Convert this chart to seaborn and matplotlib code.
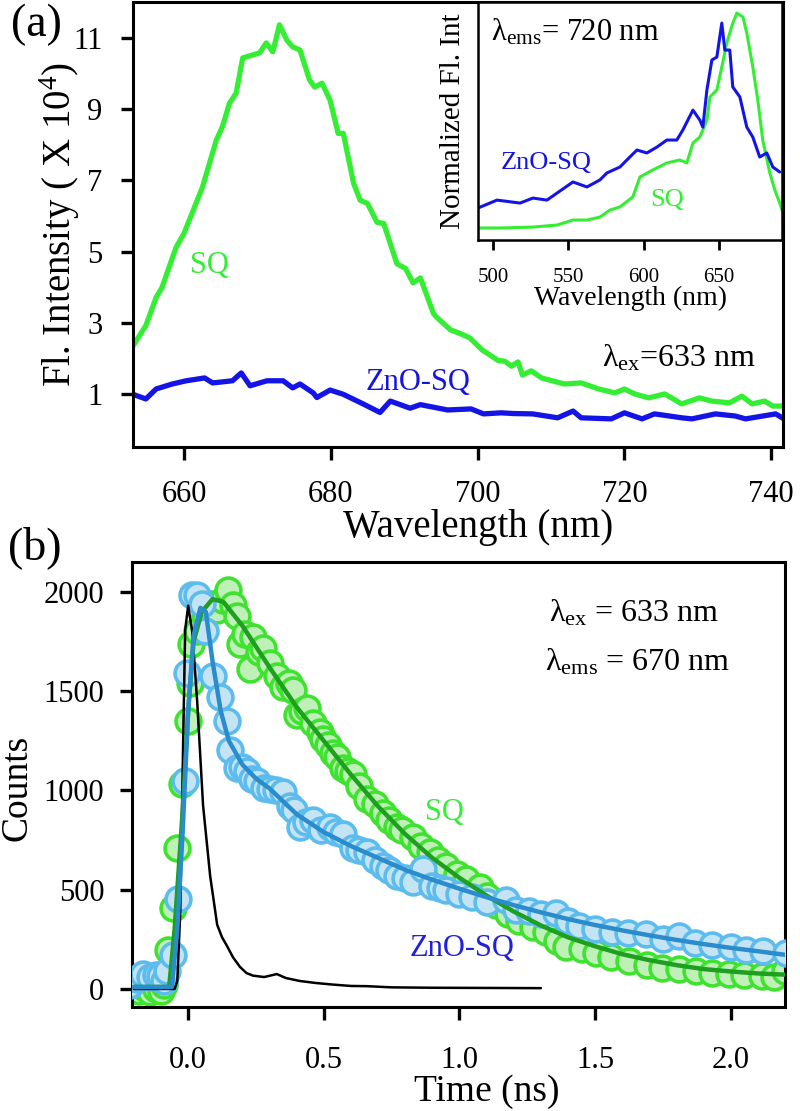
import matplotlib
matplotlib.use('Agg')
import matplotlib.pyplot as plt
import seaborn as sns

# ---------------------------------------------------------------
# (a) steady-state emission, lambda_ex = 633 nm
# ---------------------------------------------------------------
wl_sq = [652.9, 654.8, 656.2, 657.0, 658.9, 660.0, 662.5, 664.4, 665.2, 666.2,
         667.1, 668.0, 669.3, 670.3, 671.2, 672.1, 673.0, 674.0, 674.8, 675.8,
         677.1, 677.8, 678.8, 679.9, 681.0, 681.7, 683.1, 684.0, 685.0, 686.3,
         687.2, 689.0, 690.2, 691.2, 692.2, 694.0, 694.5, 696.3, 697.7, 698.9,
         700.6, 702.8, 703.7, 704.6, 705.5, 706.1, 707.3, 708.7, 711.8, 714.1,
         716.5, 718.7, 720.0, 721.4, 723.3, 725.5, 727.8, 730.2, 731.9, 734.3,
         736.0, 737.4, 739.1, 740.2, 742.2]
fl_sq = [2.30, 2.92, 3.71, 3.99, 5.11, 5.51, 6.80, 8.13, 8.49, 9.17,
         9.45, 10.44, 10.52, 10.58, 10.86, 10.61, 11.37, 10.94, 10.75, 10.66,
         9.82, 9.62, 9.73, 9.25, 8.32, 8.32, 6.92, 6.44, 6.35, 5.82,
         5.79, 4.66, 4.52, 4.12, 4.26, 3.25, 3.14, 2.80, 2.69, 2.58,
         2.24, 1.94, 1.92, 1.78, 1.90, 1.53, 1.65, 1.45, 1.28, 1.31,
         1.14, 1.03, 1.14, 1.00, 0.89, 1.00, 0.72, 0.89, 0.80, 0.75,
         0.94, 0.72, 0.80, 0.66, 0.66]

wl_zno = [652.9, 654.8, 656.2, 658.4, 660.3, 662.8, 663.9, 666.6, 667.8, 669.0,
          671.3, 673.5, 674.8, 675.8, 677.6, 678.1, 679.9, 681.7, 684.4, 686.7,
          688.1, 690.8, 692.2, 695.9, 699.1, 700.8, 703.2, 704.9, 707.5, 710.9,
          713.0, 714.1, 718.2, 720.0, 722.4, 724.1, 727.8, 729.2, 732.4, 735.1,
          736.5, 740.6, 742.2]
fl_zno = [1.00, 0.86, 1.14, 1.28, 1.37, 1.45, 1.31, 1.37, 1.59, 1.23,
          1.37, 1.37, 1.17, 1.28, 1.03, 0.90, 1.11, 0.99, 0.72, 0.48,
          0.80, 0.60, 0.70, 0.55, 0.58, 0.44, 0.47, 0.45, 0.44, 0.33,
          0.52, 0.33, 0.30, 0.47, 0.30, 0.44, 0.33, 0.30, 0.44, 0.38,
          0.30, 0.44, 0.24]

# inset: excitation spectra, lambda_ems = 720 nm (normalized)
ex_wl_sq = [490.0, 504.6, 526.5, 542.5, 553.1, 562.4, 571.0, 577.6, 584.3, 592.9,
            597.6, 606.2, 615.5, 624.1, 628.8, 632.8, 637.4, 642.1, 644.1, 648.7,
            652.0, 655.3, 659.3, 662.0, 666.0, 668.6, 672.6, 675.9, 679.2, 683.9,
            687.2, 690.5, 692.0]
ex_sq = [0.053, 0.053, 0.057, 0.066, 0.088, 0.088, 0.101, 0.132, 0.146, 0.190,
         0.278, 0.309, 0.340, 0.353, 0.340, 0.428, 0.454, 0.529, 0.631, 0.662,
         0.763, 0.869, 0.957, 1.001, 0.984, 0.913, 0.763, 0.618, 0.441, 0.296,
         0.221, 0.163, 0.132]

ex_wl_zno = [490.0, 502.6, 517.9, 526.5, 535.8, 542.5, 553.1, 562.4, 571.0, 575.7,
             584.3, 590.9, 595.6, 602.2, 608.9, 615.5, 622.1, 626.1, 632.8, 637.4,
             639.4, 642.1, 645.4, 648.7, 652.0, 654.0, 657.3, 659.3, 664.0, 668.6,
             672.6, 677.2, 681.9, 685.9, 690.5]
ex_zno = [0.141, 0.176, 0.163, 0.185, 0.176, 0.207, 0.256, 0.234, 0.265, 0.296,
          0.322, 0.366, 0.397, 0.384, 0.410, 0.441, 0.441, 0.485, 0.573, 0.529,
          0.498, 0.662, 0.794, 0.807, 0.957, 0.838, 0.838, 0.675, 0.631, 0.498,
          0.454, 0.366, 0.384, 0.322, 0.300]

# ---------------------------------------------------------------
# (b) TCSPC decays, lambda_ex = 633 nm, lambda_ems = 670 nm
# ---------------------------------------------------------------
t_sq = [-0.20, -0.18, -0.16, -0.14, -0.12, -0.10, -0.09, -0.074, -0.055, -0.04,
        -0.022, 0.0, 0.007, 0.012, 0.033, 0.062, 0.085, 0.107, 0.13, 0.147,
        0.165, 0.18, 0.191, 0.21, 0.228, 0.239, 0.26, 0.276, 0.30, 0.327,
        0.349, 0.37, 0.386, 0.401, 0.42, 0.437, 0.46, 0.485, 0.496, 0.515,
        0.533, 0.55, 0.57, 0.59, 0.607, 0.63, 0.658, 0.69, 0.717, 0.74,
        0.768, 0.79, 0.827, 0.86, 0.89, 0.92, 0.952, 0.99, 1.025, 1.074,
        1.10, 1.136, 1.18, 1.221, 1.27, 1.32, 1.36, 1.393, 1.45, 1.504,
        1.56, 1.625, 1.69, 1.746, 1.81, 1.871, 1.93, 1.993, 2.05, 2.114,
        2.16, 2.20]
cnt_sq = [10, -10, 5, -15, 0, -10, 20, 196, 409, 711,
          1030, 1348, 1539, 1736, 1805, 1879, 1940, 1911, 1960, 2012,
          1932, 1880, 1736, 1790, 1614, 1773, 1700, 1720, 1640, 1576,
          1523, 1540, 1507, 1380, 1400, 1417, 1340, 1295, 1258, 1230,
          1189, 1170, 1115, 1100, 1083, 1020, 955, 930, 886, 850,
          817, 800, 764, 720, 690, 650, 621, 580, 552, 515,
          470, 425, 380, 340, 310, 287, 240, 212, 200, 180,
          160, 143, 120, 106, 100, 90, 80, 74, 70, 64,
          60, 90]

t_zno = [-0.213, -0.19, -0.165, -0.14, -0.12, -0.103, -0.09, -0.077, -0.055, -0.037,
         -0.011, -0.004, 0.015, 0.033, 0.051, 0.062, 0.092, 0.118, 0.143, 0.154,
         0.18, 0.20, 0.217, 0.235, 0.254, 0.28, 0.301, 0.325, 0.349, 0.375,
         0.39, 0.412, 0.435, 0.46, 0.49, 0.522, 0.545, 0.57, 0.607, 0.63,
         0.658, 0.69, 0.717, 0.74, 0.768, 0.80, 0.83, 0.864, 0.90, 0.93,
         0.952, 1.00, 1.048, 1.10, 1.173, 1.21, 1.257, 1.30, 1.357, 1.40,
         1.441, 1.50, 1.563, 1.62, 1.688, 1.75, 1.809, 1.87, 1.93, 2.00,
         2.055, 2.12, 2.202]
cnt_zno = [21, 50, 74, 60, 70, 64, 40, 90, 170, 451,
           1046, 1592, 1985, 1985, 1937, 1805, 1576, 1470, 1348, 1205,
           1115, 1120, 1099, 1060, 1046, 1010, 1008, 1000, 993, 924,
           900, 817, 840, 849, 800, 817, 790, 780, 711, 700,
           690, 650, 621, 600, 568, 560, 540, 605, 520, 510,
           499, 480, 462, 440, 446, 400, 393, 380, 382, 340,
           318, 300, 287, 280, 276, 250, 265, 230, 223, 210,
           196, 190, 180]

fit_t_sq = [-0.2, -0.07, -0.05, -0.02, 0.0, 0.02, 0.05, 0.09, 0.13, 0.2,
            0.3, 0.4, 0.5, 0.6, 0.7, 0.8, 0.9, 1.0, 1.1, 1.2,
            1.3, 1.4, 1.5, 1.6, 1.7, 1.8, 1.9, 2.0, 2.1, 2.2]
fit_sq = [10, 10, 300, 900, 1400, 1750, 1900, 1964, 1950, 1830,
          1620, 1420, 1250, 1080, 920, 780, 660, 560, 470, 390,
          320, 260, 215, 175, 145, 120, 100, 88, 78, 72]

fit_t_zno = [-0.2, -0.06, -0.04, -0.02, 0.0, 0.02, 0.045, 0.065, 0.09, 0.12,
             0.15, 0.2, 0.25, 0.3, 0.4, 0.5, 0.6, 0.7, 0.8, 0.9,
             1.0, 1.1, 1.2, 1.3, 1.4, 1.5, 1.6, 1.7, 1.8, 1.9,
             2.0, 2.1, 2.2]
fit_zno = [10, 10, 300, 800, 1400, 1780, 1920, 1900, 1650, 1400,
           1250, 1130, 1060, 1010, 880, 790, 720, 660, 600, 550,
           505, 462, 422, 386, 352, 322, 295, 270, 247, 226,
           207, 190, 172]

irf_t = [-0.2, -0.05, -0.04, -0.029, -0.018, -0.011, 0.0, 0.015, 0.033, 0.055,
         0.081, 0.107, 0.125, 0.143, 0.165, 0.191, 0.215, 0.239, 0.28, 0.327,
         0.36, 0.412, 0.47, 0.533, 0.6, 0.658, 0.75, 0.9, 1.1, 1.3]
irf = [0, 0, 40, 393, 1277, 1808, 1931, 1800, 1454, 924,
       570, 323, 260, 217, 160, 111, 80, 67, 60, 75,
       55, 40, 30, 22, 15, 14, 8, 6, 5, 4]

# colours
GREEN = '#33ee33'
BLUE = '#1414e6'
SQ_FACE, SQ_EDGE, SQ_FIT = '#bff0b8', '#3fe22f', '#1f9f1f'
ZN_FACE, ZN_EDGE, ZN_FIT = '#c4e4f4', '#5cbcee', '#2a8ccc'

sns.set_style('ticks')
plt.rcParams['font.family'] = ['Liberation Serif', 'DejaVu Serif']
plt.rcParams['mathtext.fontset'] = 'custom'
plt.rcParams['mathtext.rm'] = 'Liberation Serif'
plt.rcParams['mathtext.it'] = 'Liberation Serif:italic'
plt.rcParams['axes.linewidth'] = 2.2
plt.rcParams['text.color'] = 'black'
plt.rcParams['axes.labelcolor'] = 'black'
plt.rcParams['xtick.color'] = 'black'
plt.rcParams['ytick.color'] = 'black'

fig = plt.figure(figsize=(8, 11.11), dpi=100)


def style_axes(ax, size=22, length=9, width=2.4, xpad=12, ypad=12):
    for sp in ax.spines.values():
        sp.set_visible(True)
        sp.set_linewidth(width - 0.2)
        sp.set_color('black')
    ax.tick_params(axis='both', direction='out', length=length, width=width,
                   labelsize=size, colors='black', labelcolor='black')
    ax.tick_params(axis='x', pad=xpad)
    ax.tick_params(axis='y', pad=ypad)


# ---------------- panel (a) ----------------
ax1 = fig.add_axes([0.16625, 0.59766, 0.8125, 0.40054])
sns.lineplot(x=wl_sq, y=fl_sq, ax=ax1, color=GREEN, lw=3.8, estimator=None)
sns.lineplot(x=wl_zno, y=fl_zno, ax=ax1, color=BLUE, lw=3.8, estimator=None)
ax1.set_xlim(653.05, 741.6)
ax1.set_ylim(-0.49, 12.01)
ax1.set_xticks([660, 680, 700, 720, 740])
ax1.set_yticks([1, 3, 5, 7, 9, 11])
style_axes(ax1, xpad=15, ypad=13)
ax1.set_xlabel('')
ax1.set_ylabel('')
ax1.text(0.531, -0.18, 'Wavelength (nm)', transform=ax1.transAxes,
         ha='center', va='center', fontsize=28)
ax1.text(-0.112, 0.499, 'Fl. Intensity ( X 10$^{\\mathregular{4}}$)',
         transform=ax1.transAxes, rotation=90, ha='center', va='center', fontsize=28)
ax1.text(663.4, 4.6, 'SQ', color=GREEN, fontsize=22, ha='center', va='center')
ax1.text(691.9, 1.31, 'ZnO-SQ', color=BLUE, fontsize=22, ha='center', va='center')
ax1.text(727.4, 2.0, 'λ$_{\\mathrm{ex}}$=633 nm', fontsize=23, ha='center', va='center')

# inset
axi = fig.add_axes([0.5975, 0.78398, 0.38, 0.21422])
sns.lineplot(x=ex_wl_sq, y=ex_sq, ax=axi, color=GREEN, lw=2.2, estimator=None)
sns.lineplot(x=ex_wl_zno, y=ex_zno, ax=axi, color=BLUE, lw=2.2, estimator=None)
axi.set_xlim(490, 692)
axi.set_ylim(0, 1.05)
axi.set_xticks([500, 550, 600, 650])
axi.set_yticks([])
style_axes(axi, size=15, length=7, width=2.0, xpad=13)
axi.set_xlabel('')
axi.set_ylabel('')
axi.text(0.5, -0.245, 'Wavelength (nm)', transform=axi.transAxes,
         ha='center', va='center', fontsize=20)
axi.text(-0.082, 0.5, 'Normalized Fl. Int', transform=axi.transAxes,
         rotation=90, ha='center', va='center', fontsize=21)
axi.text(554.4, 0.917, 'λ$_{\\mathrm{ems}}$= 720 nm', fontsize=22, ha='center', va='center')
axi.text(535.2, 0.34, 'ZnO-SQ', color=BLUE, fontsize=19, ha='center', va='center')
axi.text(615.5, 0.176, 'SQ', color=GREEN, fontsize=19, ha='center', va='center')

# ---------------- panel (b) ----------------
ax2 = fig.add_axes([0.165, 0.09361, 0.81625, 0.40054])
sns.scatterplot(x=t_sq, y=cnt_sq, ax=ax2, s=320, color=SQ_FACE,
                edgecolor=SQ_EDGE, linewidth=2.6, zorder=2)
sns.scatterplot(x=t_zno, y=cnt_zno, ax=ax2, s=320, color=ZN_FACE,
                edgecolor=ZN_EDGE, linewidth=2.6, zorder=3)
sns.lineplot(x=irf_t, y=irf, ax=ax2, color='black', lw=1.8, estimator=None, zorder=4)
sns.lineplot(x=fit_t_sq, y=fit_sq, ax=ax2, color=SQ_FIT, lw=3.2, estimator=None, zorder=5)
sns.lineplot(x=fit_t_zno, y=fit_zno, ax=ax2, color=ZN_FIT, lw=3.2, estimator=None, zorder=6)
ax2.set_xlim(-0.207, 2.2)
ax2.set_ylim(-91, 2151)
ax2.set_xticks([0.0, 0.5, 1.0, 1.5, 2.0])
ax2.set_xticklabels(['0.0', '0.5', '1.0', '1.5', '2.0'])
ax2.set_yticks([0, 500, 1000, 1500, 2000])
style_axes(ax2, xpad=19, ypad=11)
ax2.set_xlabel('')
ax2.set_ylabel('')
ax2.text(0.544, -0.19, 'Time (ns)', transform=ax2.transAxes,
         ha='center', va='center', fontsize=27)
ax2.text(-0.176, 0.492, 'Counts', transform=ax2.transAxes,
         rotation=90, ha='center', va='center', fontsize=27)
ax2.text(1.645, 1894, 'λ$_{\\mathrm{ex}}$ = 633 nm', fontsize=23, ha='center', va='center')
ax2.text(1.655, 1647, 'λ$_{\\mathrm{ems}}$ = 670 nm', fontsize=23, ha='center', va='center')
ax2.text(0.946, 887, 'SQ', color=GREEN, fontsize=22, ha='center', va='center')
ax2.text(1.009, 205, 'ZnO-SQ', color='#2020dd', fontsize=22, ha='center', va='center')

# panel tags
fig.text(0.046, 0.9775, '(a)', fontsize=33, ha='center', va='center')
fig.text(0.044, 0.5068, '(b)', fontsize=33, ha='center', va='center')

fig.savefig('out.png', dpi=100)
